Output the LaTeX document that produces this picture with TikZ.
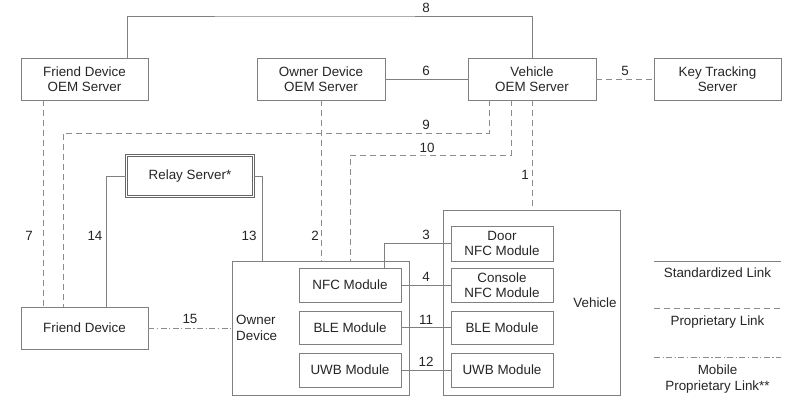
\documentclass[tikz,border=0pt]{standalone}
\usepackage{fontspec}
\setmainfont{Liberation Sans}
\begin{document}
\begin{tikzpicture}[x=1pt,y=-1pt,
  every node/.style={font=\fontsize{13.4}{15.5}\selectfont, text=black!85},
  box/.style={draw=black!50, line width=0.7pt, align=center, inner sep=0pt, fill=white},
  std/.style={draw=black!50, line width=0.7pt},
  prop/.style={draw=black!45, line width=0.7pt, dash pattern=on 6pt off 4pt},
  nprop/.style={draw=black!45, line width=0.7pt, dash pattern=on 6pt off 2.5pt on 1.2pt off 2.5pt},
  lbl/.style={inner sep=1pt}]
\useasboundingbox (0,0) rectangle (809,407);
\fill[white] (0,0) rectangle (809,407);

% servers
\node[box, minimum width=127pt, minimum height=42pt] (fo) at (84.5,79) {Friend Device\\OEM Server};
\node[box, minimum width=128pt, minimum height=42pt] (oo) at (321,79) {Owner Device\\OEM Server};
\node[box, minimum width=128pt, minimum height=42pt] (vo) at (532,79) {Vehicle\\OEM Server};
\node[box, minimum width=127pt, minimum height=42pt] (kt) at (717.5,79) {Key Tracking\\Server};
\node[box, draw=black!60, double=white, double distance=1.6pt, line width=0.8pt, minimum width=127pt, minimum height=41pt] (rs) at (190,176) {Relay Server*};

% devices
\node[box, minimum width=127pt, minimum height=42pt] (fd) at (84.5,328) {Friend Device};
\node[box, minimum width=177pt, minimum height=134pt] (od) at (320.5,328) {};
\node[box, minimum width=177pt, minimum height=185pt] (veh) at (531.5,302.5) {};
\node[align=left, anchor=west, inner sep=0pt] (odl) at (236,328) {Owner\\Device};
\node[inner sep=0pt] (vehl) at (595,303) {Vehicle};

\node[box, minimum width=102pt, minimum height=34pt] (nfc) at (350,285) {NFC Module};
\node[box, minimum width=102pt, minimum height=33pt] (ble) at (350,327.5) {BLE Module};
\node[box, minimum width=102pt, minimum height=34pt] (uwb) at (350,370) {UWB Module};

\node[box, minimum width=102pt, minimum height=35pt] (door) at (502,243.5) {Door\\NFC Module};
\node[box, minimum width=102pt, minimum height=34pt] (cons) at (502,285) {Console\\NFC Module};
\node[box, minimum width=102pt, minimum height=33pt] (vble) at (502,327.5) {BLE Module};
\node[box, minimum width=102pt, minimum height=34pt] (vuwb) at (502,370) {UWB Module};

% helper coordinates
\coordinate (c8) at (300,16);
\coordinate (c9) at (300,133);
\coordinate (c10) at (420,155);

% connectors
\draw[std] ([xshift=42.5pt]fo.north) |- (c8) -| (vo.north);
\draw[std] (oo.east) -- (vo.west);
\draw[prop] (vo.east) -- (kt.west);
\draw[prop] ([xshift=-43pt]vo.south) |- (c9) -| ([xshift=-21.5pt]fd.north);
\draw[prop] ([xshift=-21pt]vo.south) |- (c10) -| ([xshift=29.5pt]od.north);
\draw[prop] (vo.south) -- (vo.south |- veh.north);
\draw[prop] ([xshift=-41.5pt]fo.south) -- ([xshift=-41.5pt]fd.north);
\draw[prop] (oo.south) -- (oo.south |- od.north);
\draw[std] (rs.west) -| ([xshift=21.5pt]fd.north);
\draw[std] (rs.east) -| ([xshift=-58.5pt]od.north);
\draw[std] ([xshift=34pt]nfc.north) |- (door.west);
\draw[std] (nfc.east) -- (cons.west);
\draw[std] (ble.east) -- (vble.west);
\draw[std] (uwb.east) -- (vuwb.west);
\draw[nprop] (fd.east) -- (od.west);

% labels
\node[lbl] (n8) at (426,8) {8};
\node[lbl] (n6) at (426,71) {6};
\node[lbl] (n5) at (625,71) {5};
\node[lbl] (n9) at (426,125) {9};
\node[lbl] (n10) at (427,148) {10};
\node[lbl] (n1) at (525,175) {1};
\node[lbl] (n7) at (29,236) {7};
\node[lbl] (n14) at (95,236) {14};
\node[lbl] (n13) at (249,236) {13};
\node[lbl] (n2) at (315,236) {2};
\node[lbl] (n3) at (426,235) {3};
\node[lbl] (n4) at (426,277) {4};
\node[lbl] (n11) at (426,320) {11};
\node[lbl] (n12) at (426,362) {12};
\node[lbl] (n15) at (190,319) {15};

% legend
\coordinate (la1) at (654,261); \coordinate (lb1) at (781,261);
\coordinate (la2) at (654,308); \coordinate (lb2) at (781,308);
\coordinate (la3) at (654,357); \coordinate (lb3) at (781,357);
\draw[std] (la1) -- (lb1);
\draw[prop] (la2) -- (lb2);
\draw[nprop] (la3) -- (lb3);
\node (lg1) at (717.5,273) {Standardized Link};
\node (lg2) at (717.5,322) {Proprietary Link};
\node[align=center] (lg3) at (717.5,379) {Mobile\\Proprietary Link**};
\end{tikzpicture}
\end{document}
